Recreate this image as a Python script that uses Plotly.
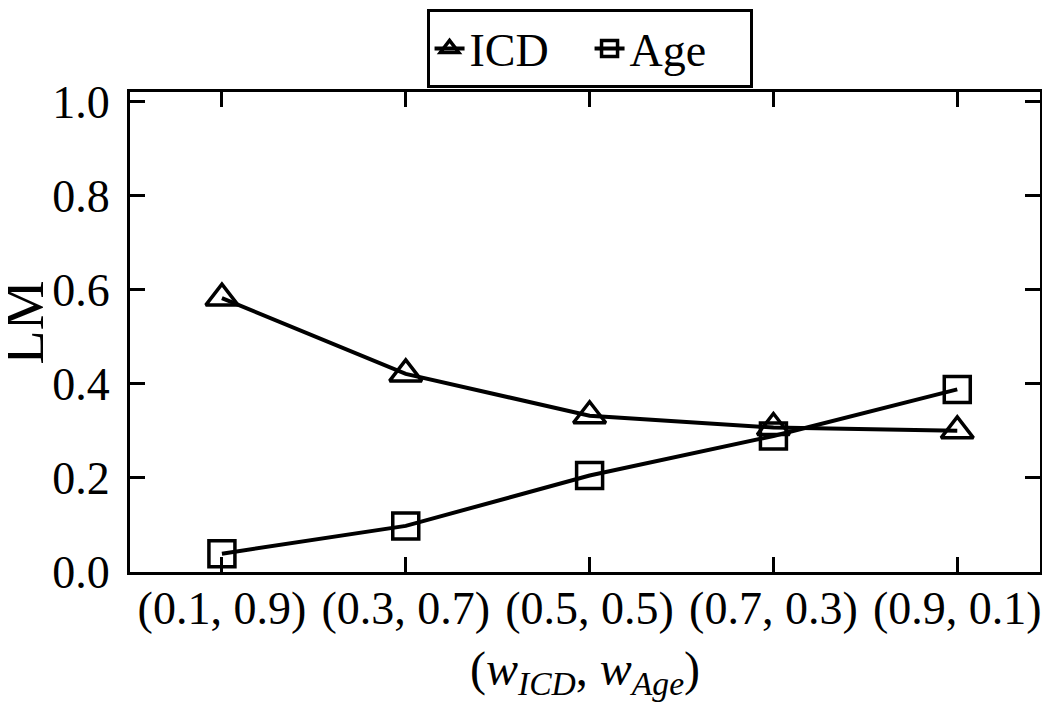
import plotly.graph_objects as go

categories = ["(0.1, 0.9)", "(0.3, 0.7)", "(0.5, 0.5)", "(0.7, 0.3)", "(0.9, 0.1)"]
icd_values = [0.582, 0.421, 0.332, 0.307, 0.300]
age_values = [0.039, 0.098, 0.205, 0.289, 0.388]
y_ticks = [0.0, 0.2, 0.4, 0.6, 0.8, 1.0]

FONT = "Liberation Serif, Times New Roman, serif"
xpos = list(range(len(categories)))

# page body has an 8px margin; size the figure so the plot box lands where the reference has it
W, H = 1034, 696
L, R, T, B = 122, 2, 84, 132
plot_h = H - T - B
plot_w = W - L - R

fig = go.Figure()
fig.add_trace(go.Scatter(
    x=xpos, y=icd_values, name="ICD", mode="lines+markers",
    line=dict(color="black", width=4),
    marker=dict(symbol="triangle-up-open", size=28, color="black", line=dict(width=3.5, color="black")),
))
fig.add_trace(go.Scatter(
    x=xpos, y=age_values, name="Age", mode="lines+markers",
    line=dict(color="black", width=4),
    marker=dict(symbol="square-open", size=26, color="black", line=dict(width=3.5, color="black")),
))

fig.update_layout(
    width=W, height=H,
    margin=dict(l=L, r=R, t=T, b=B, autoexpand=False),
    paper_bgcolor="white", plot_bgcolor="white",
    font=dict(family=FONT, color="black", size=46),
    showlegend=True,
    legend=dict(
        orientation="h", x=0.505, xanchor="center", y=1 + (T - 1) / plot_h, yanchor="top",
        bordercolor="black", borderwidth=3, bgcolor="white",
        font=dict(family=FONT, size=46, color="black"),
        entrywidth=115, tracegroupgap=0,
    ),
    xaxis=dict(
        range=[-0.5, 4.45], tickmode="array", tickvals=xpos, ticktext=categories,
        showline=True, linecolor="black", linewidth=3, mirror="ticks",
        ticks="inside", ticklen=15, tickwidth=2.5, tickcolor="black",
        showgrid=False, zeroline=False, automargin=False,
        ticklabelstandoff=-6,
        tickfont=dict(family=FONT, size=46, color="black"),
    ),
    yaxis=dict(
        range=[0, 1.02], tickmode="array", tickvals=y_ticks, tickformat=".1f",
        showline=True, linecolor="black", linewidth=3, mirror="ticks",
        ticks="inside", ticklen=15, tickwidth=2.5, tickcolor="black",
        showgrid=False, zeroline=False, automargin=False,
        ticklabelstandoff=8,
        tickfont=dict(family=FONT, size=46, color="black"),
    ),
    annotations=[
        dict(
            text="LM", textangle=-90, xref="paper", yref="paper",
            x=-(L - 16) / plot_w, xanchor="center", y=0.52, yanchor="middle",
            showarrow=False, font=dict(family=FONT, size=56, color="black"),
        ),
        dict(
            text="(<i>w</i><sub><i>ICD</i></sub>, <i>w</i><sub><i>Age</i></sub>)",
            xref="paper", yref="paper", x=0.5, xanchor="center",
            y=-(672 - 8 - T - plot_h) / plot_h, yanchor="middle",
            showarrow=False, font=dict(family=FONT, size=48, color="black"),
        ),
    ],
)

fig.write_html("out.html")
